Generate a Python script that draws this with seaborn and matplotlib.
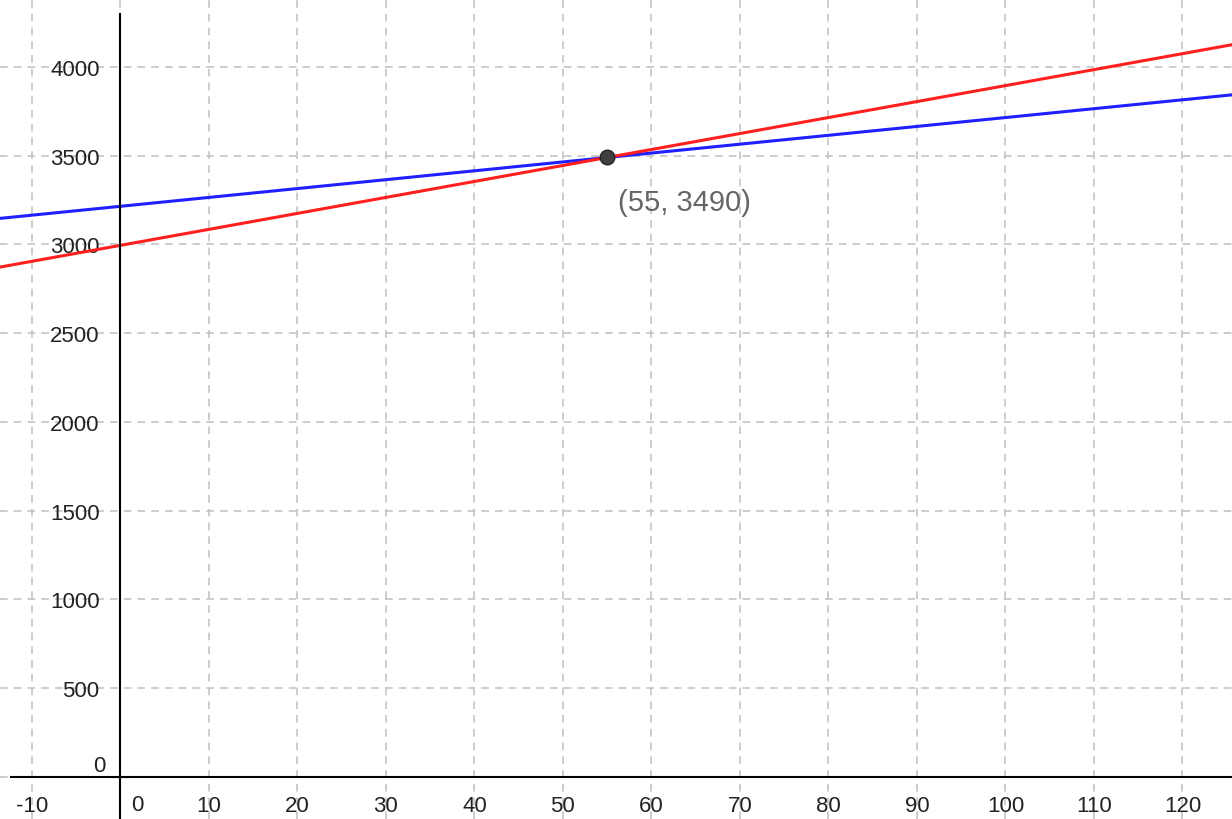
import matplotlib
matplotlib.use("Agg")
import matplotlib.pyplot as plt
import matplotlib.ticker as mticker
import seaborn as sns
import pandas as pd

# data
x_ends = [-14, 126]
blue_y = [3145, 3845]
red_y = [2869, 4129]
point_x = [55]
point_y = [3490]
point_label = "(55, 3490)"
x_ticks = list(range(-10, 121, 10))
y_ticks = list(range(0, 4001, 500))

sns.set_style("white")
plt.rcParams['font.family'] = ['Liberation Sans', 'DejaVu Sans']

df = pd.DataFrame({
    'x': x_ends + x_ends,
    'y': blue_y + red_y,
    'line': ['blue'] * len(x_ends) + ['red'] * len(x_ends),
})

fig = plt.figure(figsize=(12.32, 8.2), dpi=100)
ax = fig.add_axes([0, 0, 1, 1])

sns.lineplot(data=df, x='x', y='y', hue='line', palette={'blue': '#1f1fff', 'red': '#ff1f1f'},
             linewidth=2.2, legend=False, ax=ax)
sns.scatterplot(x=point_x, y=point_y, color='#404040', s=110, edgecolor='#222222', linewidth=1, zorder=5, ax=ax)
ax.annotate(point_label, xy=(point_x[0], point_y[0]), xytext=(8, -22), textcoords='offset points',
            fontsize=21, color='#666666', va='top', ha='left')

ax.set_xlim(-13.6, 125.6)
ax.set_ylim(-237, 4383)
ax.set_xlabel('')
ax.set_ylabel('')

ax.set_xticks(x_ticks)
ax.set_yticks(y_ticks)
ax.xaxis.set_major_formatter(mticker.FuncFormatter(lambda v, p: '' if v == 0 else f"{v:.0f}"))
ax.yaxis.set_major_formatter(mticker.FuncFormatter(lambda v, p: '' if v == 0 else f"{v:.0f}"))
ax.grid(True, linestyle=(0, (5, 4)), color='#c0c0c0', linewidth=1.1)
ax.set_axisbelow(True)

for side in ['top', 'right']:
    ax.spines[side].set_visible(False)
ax.spines['left'].set_position(('data', 0))
ax.spines['bottom'].set_position(('data', 0))
ax.spines['left'].set_bounds(-237, 4298)
ax.spines['bottom'].set_bounds(-12.4, 125.6)
for side in ['left', 'bottom']:
    ax.spines[side].set_color('black')
    ax.spines[side].set_linewidth(1.5)
ax.tick_params(axis='both', direction='inout', length=6, width=1.2, labelsize=16, colors='black',
               labelcolor='#222222')
ax.tick_params(axis='y', pad=12)
ax.tick_params(axis='x', pad=10)

ax.annotate('0', xy=(0, 0), xytext=(12, -20), textcoords='offset points', fontsize=16, ha='center', va='center',
            color='#222222')
ax.annotate('0', xy=(0, 0), xytext=(-15.5, 8), textcoords='offset points', fontsize=16, ha='center', va='center',
            color='#222222')

fig.savefig('out.png', dpi=100)
